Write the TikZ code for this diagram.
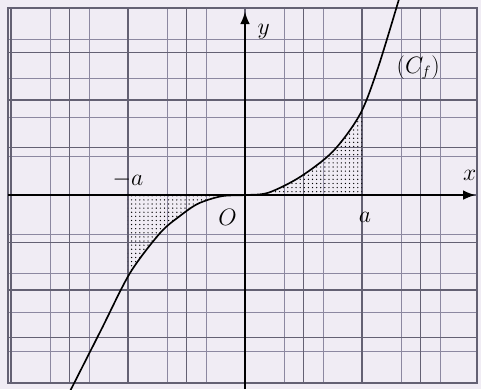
\documentclass[tikz,border=0pt]{standalone}
\usepackage{tikz}
\usetikzlibrary{patterns,arrows.meta}
\definecolor{paper}{RGB}{240,236,244}
\definecolor{minorline}{RGB}{140,136,160}
\definecolor{majorline}{RGB}{100,97,115}
\def\Cfpath{plot[smooth] coordinates {(-15.1,-21) (-12.3,-14.2) (-9.83,-8.21) (-7.26,-4.0) (-5.56,-2.2) (-4,-0.9) (-2,-0.12) (0,0) (2,0.25) (4.7,1.9) (7.52,4.6) (9.83,8.5) (11.37,13.4) (13.3,21.2)}}
\begin{document}
\begin{tikzpicture}[x=0.3cm,y=0.2436cm,
  lbl/.style={font=\fontsize{16}{18}\selectfont},
  axisline/.style={line width=1.1pt,-{Latex[length=9pt,width=7pt]}}]
  % Paper
  \fill[paper] (-20.94,-20.42) rectangle (20.17,20.53);
  \useasboundingbox (-20.94,-20.42) rectangle (20.17,20.53);
  \clip (-20.94,-20.42) rectangle (20.17,20.53);
  % Graph paper grid
  \draw[minorline,line width=0.6pt] (-20.26,-19.79) grid (19.83,19.68);
  \draw[majorline,line width=1pt] (-20.26,-19.79) grid[step=5] (19.83,19.68);
  \draw[majorline,line width=1.2pt] (-20.26,-19.79) rectangle (19.83,19.68);
  % Shaded areas
  \begin{scope}
    \clip (-10,0) rectangle (0,-15);
    \fill[pattern=dots,pattern color=black] \Cfpath -- (20,25) -- (-20,25) -- cycle;
  \end{scope}
  \begin{scope}
    \clip (0,0) rectangle (10,15);
    \fill[pattern=dots,pattern color=black] \Cfpath -- (20,-25) -- (-20,-25) -- cycle;
  \end{scope}
  % Axes
  \coordinate (xfrom) at (-20.26,0);
  \coordinate (xto) at (19.7,0);
  \coordinate (yfrom) at (0,-20.42);
  \coordinate (yto) at (0,19.3);
  \draw[axisline] (xfrom) -- (xto);
  \draw[axisline] (yfrom) -- (yto);
  % Curve
  \draw[line width=1.2pt] \Cfpath;
  % Labels
  \node[lbl] (minusA) at (-10,1.6) {$-a$};
  \node[lbl] (origin) at (-1.5,-2.4) {$O$};
  \node[lbl] (plusA) at (10.25,-2.3) {$a$};
  \node[lbl] (xlbl) at (19.2,2.1) {$x$};
  \node[lbl] (ylbl) at (1.6,17.2) {$y$};
  \node[lbl] (curvelbl) at (14.8,13.4) {$(C_f)$};
\end{tikzpicture}
\end{document}
